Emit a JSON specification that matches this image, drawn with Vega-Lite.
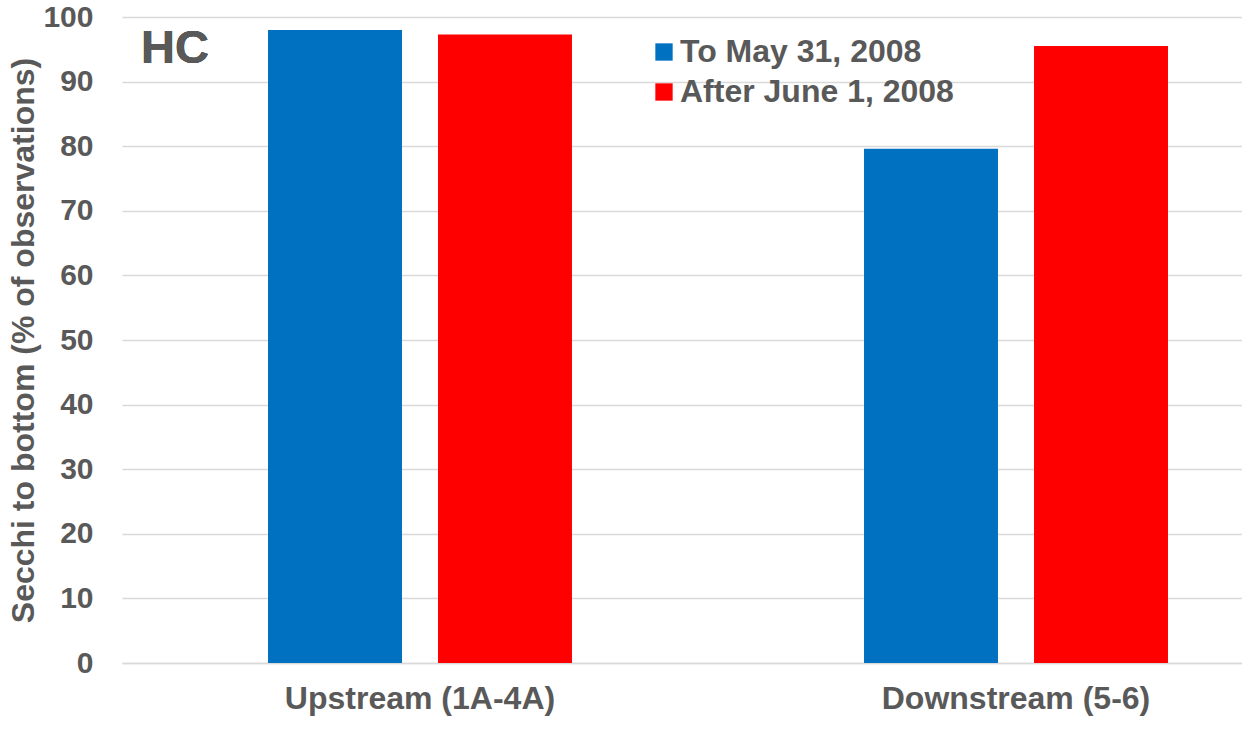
{
  "$schema": "https://vega.github.io/schema/vega-lite/v6.json",
  "width": 1192,
  "height": 646,
  "autosize": {"type": "none"},
  "padding": {"left": 122, "top": 17, "right": 0, "bottom": 87},
  "background": "white",
  "config": {
    "view": {"stroke": null},
    "font": "Liberation Sans"
  },
  "data": {
    "values": [
      {"region": "Upstream (1A-4A)", "period": "To May 31, 2008", "pct": 98.0},
      {"region": "Upstream (1A-4A)", "period": "After June 1, 2008", "pct": 97.3},
      {"region": "Downstream (5-6)", "period": "To May 31, 2008", "pct": 79.6},
      {"region": "Downstream (5-6)", "period": "After June 1, 2008", "pct": 95.5}
    ]
  },
  "layer": [
    {
      "mark": {"type": "bar"},
      "encoding": {
        "x": {
          "field": "region",
          "type": "nominal",
          "sort": ["Upstream (1A-4A)", "Downstream (5-6)"],
          "scale": {"paddingInner": 0.49, "paddingOuter": 0.245},
          "axis": {
            "title": null,
            "labelAngle": 0,
            "labelFont": "Liberation Sans",
            "labelFontWeight": "bold",
            "labelFontSize": 32,
            "labelColor": "#595959",
            "labelPadding": 20,
            "labelLimit": 600,
            "ticks": false,
            "domain": true,
            "domainColor": "#d9d9d9",
            "domainWidth": 1.5,
            "grid": false
          }
        },
        "xOffset": {
          "field": "period",
          "type": "nominal",
          "sort": ["To May 31, 2008", "After June 1, 2008"],
          "scale": {"paddingInner": 0.212, "paddingOuter": 0}
        },
        "y": {
          "field": "pct",
          "type": "quantitative",
          "scale": {"domain": [0, 100], "nice": false},
          "axis": {
            "title": "Secchi to bottom (% of observations)",
            "titleFont": "Liberation Sans",
            "titleFontWeight": "bold",
            "titleFontSize": 32,
            "titleColor": "#595959",
            "titlePadding": 2,
            "values": [0, 10, 20, 30, 40, 50, 60, 70, 80, 90, 100],
            "labelFont": "Liberation Sans",
            "labelFontWeight": "bold",
            "labelFontSize": 30,
            "labelColor": "#595959",
            "labelPadding": 29,
            "ticks": false,
            "domain": false,
            "grid": true,
            "gridColor": "#d9d9d9",
            "gridWidth": 1.5
          }
        },
        "color": {
          "field": "period",
          "type": "nominal",
          "sort": ["To May 31, 2008", "After June 1, 2008"],
          "scale": {"domain": ["To May 31, 2008", "After June 1, 2008"], "range": ["#0070C0", "#FF0000"]},
          "legend": {
            "title": null,
            "orient": "none",
            "legendX": 526,
            "legendY": 19,
            "symbolType": "square",
            "symbolSize": 300,
            "symbolStrokeWidth": 0,
            "labelFont": "Liberation Sans",
            "labelFontWeight": "bold",
            "labelFontSize": 32,
            "labelColor": "#595959",
            "labelOffset": 0,
            "rowPadding": 8,
            "labelLimit": 500
          }
        }
      }
    },
    {
      "mark": {
        "type": "text",
        "text": "HC",
        "font": "Liberation Sans",
        "fontWeight": "bold",
        "fontSize": 47,
        "color": "#595959",
        "align": "left",
        "baseline": "alphabetic",
        "dx": -279
      },
      "encoding": {
        "x": {"datum": "Upstream (1A-4A)", "type": "nominal"},
        "y": {"datum": 92.9, "type": "quantitative"}
      }
    }
  ]
}
